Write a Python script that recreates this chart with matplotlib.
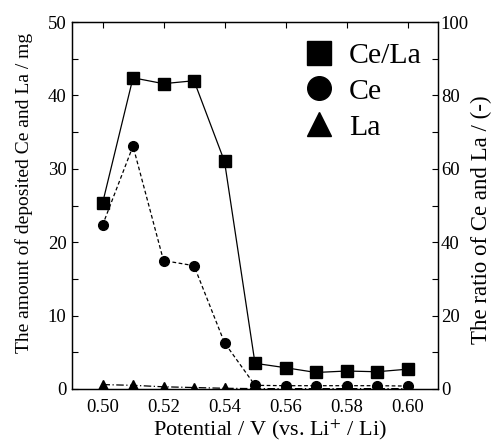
import matplotlib
matplotlib.use("Agg")
import matplotlib.pyplot as plt
from matplotlib.lines import Line2D
from matplotlib.ticker import MultipleLocator

plt.rcParams['font.family'] = ['Liberation Serif', 'DejaVu Serif']
plt.rcParams['mathtext.fontset'] = 'stix'

potential = [0.50, 0.51, 0.52, 0.53, 0.54, 0.55, 0.56, 0.57, 0.58, 0.59, 0.60]
ratio_ce_la = [50.6, 84.8, 83.2, 84.0, 62.0, 7.0, 5.8, 4.5, 4.9, 4.7, 5.4]
ce_mg = [22.3, 33.1, 17.5, 16.8, 6.3, 0.5, 0.45, 0.45, 0.45, 0.45, 0.4]
la_mg = [0.6, 0.5, 0.3, 0.2, 0.1, 0.05, 0.05, 0.05, 0.05, 0.05, 0.05]

fig = plt.figure(figsize=(4.99, 4.43), dpi=100)
ax = fig.add_axes([0.1443, 0.1219, 0.7335, 0.8284])
ax2 = ax.twinx()

ax.plot(potential, ce_mg, color='black', linestyle=(0, (3, 2)), linewidth=0.9,
        marker='o', markersize=7, zorder=3)
ax.plot(potential, la_mg, color='black', linestyle=(0, (6, 2, 1, 2)), linewidth=0.9,
        marker='^', markersize=7, zorder=3)
ax2.plot(potential, ratio_ce_la, color='black', linestyle='-', linewidth=0.9,
         marker='s', markersize=8, zorder=3)

ax.set_xlim(0.49, 0.61)
ax.set_ylim(0, 50)
ax2.set_ylim(0, 100)
ax.set_xticks([0.50, 0.52, 0.54, 0.56, 0.58, 0.60])
ax.set_xticklabels(['0.50', '0.52', '0.54', '0.56', '0.58', '0.60'])
ax.yaxis.set_major_locator(MultipleLocator(10))
ax.yaxis.set_minor_locator(MultipleLocator(5))
ax2.yaxis.set_major_locator(MultipleLocator(20))
ax2.yaxis.set_minor_locator(MultipleLocator(10))

ax.tick_params(axis='x', direction='in', top=True, length=4, width=0.8, labelsize=13.5, pad=7)
ax.tick_params(axis='y', which='both', direction='in', length=4, width=0.8, labelsize=13.5, pad=4)
ax2.tick_params(axis='y', which='both', direction='in', length=4, width=0.8, labelsize=13.5, pad=2)

for a in (ax, ax2):
    for s in a.spines.values():
        s.set_linewidth(0.9)

ax.set_xlabel('Potential / V (vs. Li$^{+}$ / Li)', fontsize=16)
ax.set_ylabel('The amount of deposited Ce and La / mg', fontsize=14)
ax2.set_ylabel('The ratio of Ce and La / (-)', fontsize=16.5)

ax.xaxis.label.set_va('center')
ax.xaxis.set_label_coords(0.541, -0.112)
ax.yaxis.label.set_va('center')
ax.yaxis.set_label_coords(-0.131, 0.535)
ax2.yaxis.label.set_va('center')
ax2.yaxis.set_label_coords(1.120, 0.46)

handles = [
    Line2D([], [], color='black', marker='s', linestyle='none', markersize=17),
    Line2D([], [], color='black', marker='o', linestyle='none', markersize=17),
    Line2D([], [], color='black', marker='^', linestyle='none', markersize=17),
]
ax2.legend(handles, ['Ce/La', 'Ce', 'La'], loc='upper right', frameon=False,
           fontsize=21.5, handletextpad=0.3, labelspacing=0.3,
           bbox_to_anchor=(1.0, 0.99), borderaxespad=0.15, handlelength=1.4)

fig.savefig('out.png', dpi=100)
